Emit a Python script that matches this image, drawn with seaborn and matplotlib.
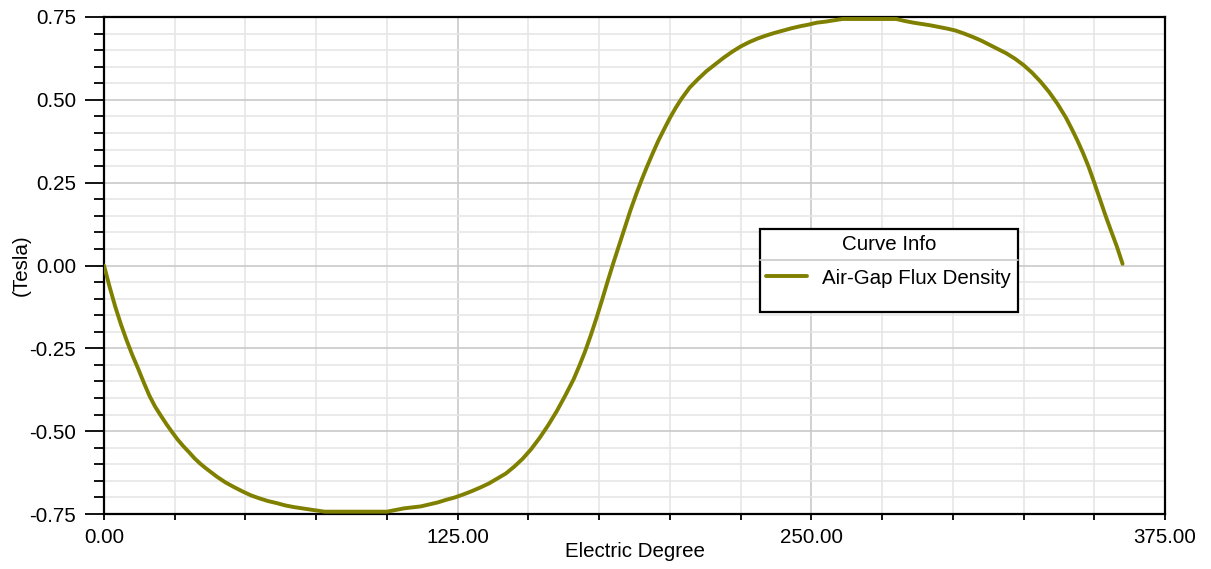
import numpy as np
import pandas as pd
import matplotlib
matplotlib.use("Agg")
import matplotlib.pyplot as plt
from matplotlib.patches import Rectangle
from matplotlib.lines import Line2D
from matplotlib.ticker import MultipleLocator
import seaborn as sns

# Air-gap flux density over one electrical period
degrees = [
    0, 2, 4, 6, 8, 10, 12, 14, 16, 18, 20, 22, 24, 26, 28, 30, 32, 34, 36, 38,
    40, 43, 46, 49, 52, 55, 58, 61, 64, 67, 70, 74, 78, 84, 90, 96, 100, 103,
    106, 109, 112, 115, 118, 121, 124, 127, 130, 133, 136, 139, 142, 145, 148,
    151, 154, 157, 160, 163, 166, 168, 170, 172, 174, 176, 178, 180, 182, 184,
    186, 188, 190, 192, 194, 196, 198, 200, 202, 204, 207, 210, 213, 216, 219,
    222, 225, 228, 231, 234, 237, 240, 243, 246, 249, 252, 255, 258, 261, 270,
    280, 283, 286, 289, 292, 295, 298, 301, 304, 307, 310, 313, 316, 319, 322,
    325, 328, 331, 334, 337, 340, 342, 344, 346, 348, 350, 352, 354, 356, 358,
    360,
]
flux_tesla = [
    0.000, -0.065, -0.125, -0.178, -0.226, -0.270, -0.310, -0.352, -0.392,
    -0.425, -0.452, -0.478, -0.502, -0.525, -0.545, -0.563, -0.582, -0.598,
    -0.612, -0.625, -0.638, -0.655, -0.669, -0.682, -0.694, -0.703, -0.711,
    -0.717, -0.724, -0.729, -0.733, -0.738, -0.743, -0.743, -0.743, -0.743,
    -0.743, -0.738, -0.733, -0.730, -0.727, -0.721, -0.715, -0.707, -0.700,
    -0.691, -0.681, -0.670, -0.658, -0.643, -0.628, -0.607, -0.583, -0.554,
    -0.520, -0.482, -0.440, -0.393, -0.343, -0.303, -0.260, -0.212, -0.160,
    -0.105, -0.048, 0.007, 0.060, 0.113, 0.165, 0.213, 0.258, 0.300, 0.340,
    0.378, 0.412, 0.445, 0.475, 0.502, 0.537, 0.563, 0.587, 0.607, 0.627,
    0.645, 0.661, 0.674, 0.685, 0.694, 0.702, 0.709, 0.716, 0.722, 0.727,
    0.733, 0.736, 0.740, 0.744, 0.744, 0.744, 0.738, 0.733, 0.729, 0.725,
    0.720, 0.715, 0.709, 0.700, 0.690, 0.679, 0.666, 0.653, 0.640, 0.624,
    0.605, 0.582, 0.555, 0.524, 0.488, 0.446, 0.413, 0.378, 0.340, 0.298,
    0.250, 0.200, 0.150, 0.103, 0.057, 0.005,
]
series_name = "Air-Gap Flux Density"
legend_title = "Curve Info"

x_major = [0, 125, 250, 375]
x_tick_labels = ["0.00", "125.00", "250.00", "375.00"]
y_major = [-0.75, -0.50, -0.25, 0.00, 0.25, 0.50, 0.75]
y_tick_labels = ["-0.75", "-0.50", "-0.25", "0.00", "0.25", "0.50", "0.75"]

df = pd.DataFrame({"deg": degrees, "tesla": flux_tesla})

sns.set_theme(style="white")
plt.rcParams["font.family"] = ["Liberation Sans", "DejaVu Sans"]
plt.rcParams["text.color"] = "black"
plt.rcParams["axes.labelcolor"] = "black"
plt.rcParams["xtick.labelcolor"] = "black"
plt.rcParams["ytick.labelcolor"] = "black"
FS = 14.8

fig = plt.figure(figsize=(12.11, 5.69), dpi=100)
ax = fig.add_axes([104 / 1211, 1 - 514 / 569, 1061 / 1211, 497 / 569])

line_color = "#808000"
sns.lineplot(data=df, x="deg", y="tesla", ax=ax, color=line_color,
             linewidth=2.8, label=series_name, legend=False, zorder=3)

ax.set_xlim(0, 375)
ax.set_ylim(-0.75, 0.75)

ax.set_xticks(x_major)
ax.set_xticklabels(x_tick_labels)
ax.set_yticks(y_major)
ax.set_yticklabels(y_tick_labels)
ax.xaxis.set_minor_locator(MultipleLocator(25))
ax.yaxis.set_minor_locator(MultipleLocator(0.05))

ax.grid(which="minor", color="#e6e6e6", linewidth=1.2, zorder=0)
ax.grid(which="major", color="#c9c9c9", linewidth=1.2, zorder=0)
ax.set_axisbelow(True)

ax.tick_params(axis="x", which="both", direction="out", length=4, width=1.3,
               color="black", bottom=True, labelsize=FS, pad=6)
ax.tick_params(axis="y", which="major", direction="out", length=14, width=1.3,
               color="black", left=True, labelsize=FS, pad=6)
ax.tick_params(axis="y", which="minor", direction="out", length=7, width=1.3,
               color="black", left=True)

for side in ["left", "right", "top", "bottom"]:
    ax.spines[side].set_visible(True)
    ax.spines[side].set_color("black")
    ax.spines[side].set_linewidth(1.6)

ax.set_xlabel("Electric Degree", fontsize=FS)
ax.set_ylabel("(Tesla)", fontsize=FS)
ax.xaxis.set_label_coords(0.5, (514 - 542) / 497)
ax.yaxis.set_label_coords((31 - 104) / 1061, 0.5)

# Legend box with title separator
bx0, bx1 = (760 - 104) / 1061, (1018 - 104) / 1061
by0, by1 = (514 - 312) / 497, (514 - 229) / 497
sep_y = (514 - 260) / 497
ax.add_patch(Rectangle((bx0, by0), bx1 - bx0, by1 - by0, transform=ax.transAxes,
                       facecolor="white", edgecolor="black", linewidth=1.6,
                       zorder=5))
ax.add_line(Line2D([bx0, bx1], [sep_y, sep_y], transform=ax.transAxes,
                   color="#c9c9c9", linewidth=1.2, zorder=6))
ax.text((bx0 + bx1) / 2, (514 - 244) / 497, legend_title, transform=ax.transAxes,
        ha="center", va="center", fontsize=FS, zorder=7)

handles, labels = ax.get_legend_handles_labels()
leg = ax.legend(handles, labels, loc="center left",
                bbox_to_anchor=((766 - 104) / 1061, (514 - 278) / 497),
                frameon=False, fontsize=FS, handlelength=2.0, handletextpad=0.7,
                borderpad=0, borderaxespad=0)
leg.set_zorder(8)

fig.savefig("out.png", dpi=100)
